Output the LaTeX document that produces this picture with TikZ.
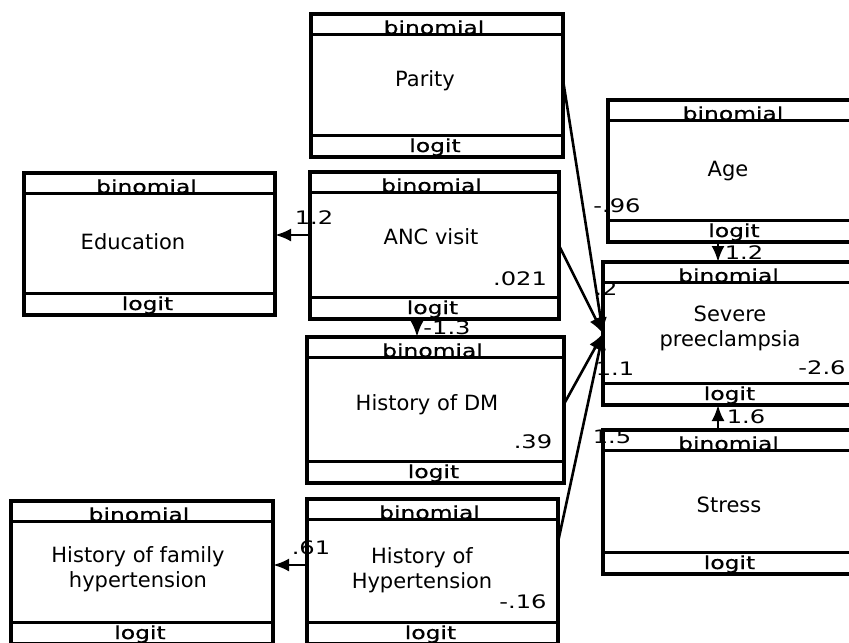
\documentclass[tikz,border=0pt]{standalone}
\usepackage{fontspec}
\setmainfont{DejaVu Sans}
\newfontfamily\widefont[FakeStretch=1.3]{DejaVu Sans}
\newfontfamily\stripfont[FakeStretch=1.3,FakeBold=0.8]{DejaVu Sans}
\usetikzlibrary{arrows.meta}
\tikzset{
  varbox/.style={draw, line width=1.8pt, outer sep=0pt, inner sep=0pt},
  stripline/.style={line width=1.8pt},
  striptext/.style={font=\stripfont\fontsize{9}{10}\selectfont, anchor=base, inner sep=0pt},
  varname/.style={font=\fontsize{10.5}{12.5}\selectfont, align=center, inner sep=0pt},
  coef/.style={font=\widefont\fontsize{9.3}{10}\selectfont, inner sep=0pt},
  pathline/.style={line width=1.3pt, -{Latex[length=8pt,width=6.5pt]}}
}

\begin{document}
\begin{tikzpicture}[x=0.5pt, y=-0.5pt]
  \useasboundingbox (0,0) rectangle (849,642);

  % variable boxes (pixel grid, y down)
  \node[varbox, minimum width=126pt,   minimum height=71.5pt] (parity) at (437,85.5) {};
  \node[varbox, minimum width=128pt,   minimum height=71pt]   (age)    at (736,171) {};
  \node[varbox, minimum width=125.5pt, minimum height=71pt]   (edu)    at (149.5,244) {};
  \node[varbox, minimum width=124.5pt, minimum height=73.5pt] (anc)    at (434.5,245.5) {};
  \node[varbox, minimum width=128.5pt, minimum height=73pt]   (dm)     at (435.5,410) {};
  \node[varbox, minimum width=128.5pt, minimum height=71.5pt] (sev)    at (731.5,333.5) {};
  \node[varbox, minimum width=128.5pt, minimum height=72pt]   (stress) at (731.5,502) {};
  \node[varbox, minimum width=131pt,   minimum height=71.5pt] (famhyp) at (142,572.5) {};
  \node[varbox, minimum width=125.5pt, minimum height=72.5pt] (hyp)    at (432.5,571.5) {};

  % family / link strips
  \foreach \b in {parity,age,edu,anc,dm,sev,stress,famhyp,hyp} {
    \draw[stripline] ([yshift=-10.25pt]\b.north west) -- ([yshift=-10.25pt]\b.north east);
    \draw[stripline] ([yshift=10.75pt]\b.south west) -- ([yshift=10.75pt]\b.south east);
    \node[striptext] at ([xshift=-1.5pt,yshift=-10pt]\b.north) {binomial};
    \node[striptext] at ([xshift=-1pt,yshift=2.5pt]\b.south) {logit};
  }

  % variable names
  \node[varname] at (425,81)  {Parity};
  \node[varname] at (728,171) {Age};
  \node[varname] at (133,242) {Education};
  \node[varname] at (431,237) {ANC visit};
  \node[varname] at (427,405) {History of DM};
  \node[varname] at (730,328) {Severe\\preeclampsia};
  \node[varname] at (729,505) {Stress};
  \node[varname] at (138,569) {History of family\\hypertension};
  \node[varname] at (422,570) {History of\\Hypertension};

  % intercepts and coefficients
  \node[coef] at (617,206) {-.96};
  \node[coef] at (314,218) {1.2};
  \node[coef] at (520,279) {.021};
  \node[coef] at (447,328) {-1.3};
  \node[coef] at (744,253) {1.2};
  \node[coef] at (606,289) {.2};
  \node[coef] at (615,369) {1.1};
  \node[coef] at (822,368) {-2.6};
  \node[coef] at (746,417) {1.6};
  \node[coef] at (612,437) {1.5};
  \node[coef] at (533,442) {.39};
  \node[coef] at (311,548) {.61};
  \node[coef] at (523,602) {-.16};

  % paths into severe preeclampsia
  \draw[pathline] ([yshift=2.75pt]parity.east) -- (sev.west);
  \draw[pathline] (anc.east) -- (sev.west);
  \draw[pathline] ([yshift=3pt]dm.east) -- (sev.west);
  \draw[pathline] ([yshift=14.75pt]hyp.east) -- (sev.west);

  \coordinate (agefoot) at ([xshift=-9pt]age.south);
  \draw[pathline] (agefoot) -- (agefoot |- sev.north);
  \coordinate (stresstop) at ([xshift=-6.75pt]stress.north);
  \draw[pathline] (stresstop) -- (stresstop |- sev.south);

  % other paths
  \coordinate (ancleft) at ([yshift=5.25pt]anc.west);
  \draw[pathline] (ancleft) -- (ancleft -| edu.east);
  \coordinate (ancfoot) at ([xshift=-8.75pt]anc.south);
  \draw[pathline] (ancfoot) -- (ancfoot |- dm.north);
  \coordinate (hypleft) at ([yshift=3.25pt]hyp.west);
  \draw[pathline] (hypleft) -- (hypleft -| famhyp.east);
\end{tikzpicture}
\end{document}
